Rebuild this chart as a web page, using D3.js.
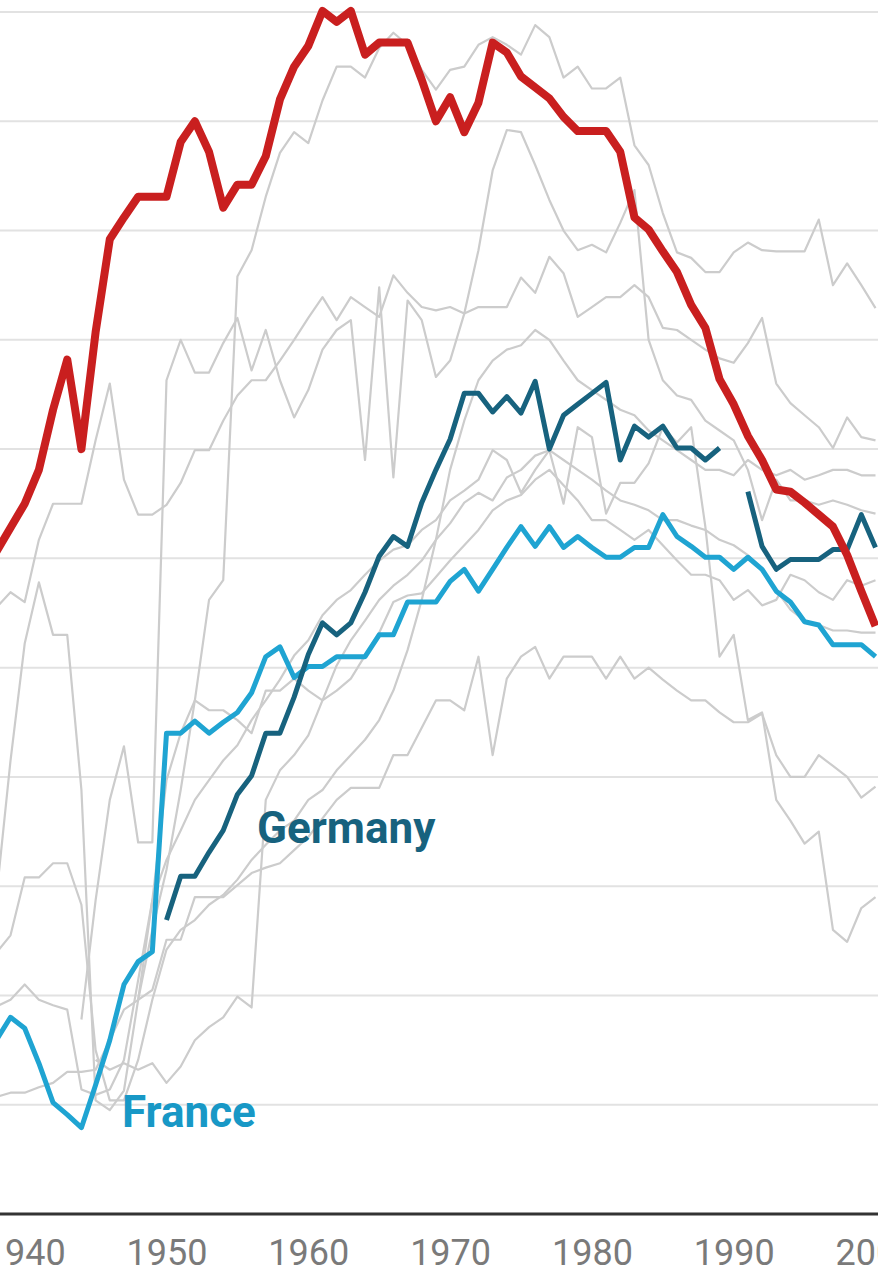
<!DOCTYPE html>
<meta charset="utf-8">
<script src="https://d3js.org/d3.v7.min.js"></script>
<style>
  body { margin: 0; background: #fff; }
  svg { display: block; }
</style>
<div id="chart"></div>
<script>

// every series is a run of yearly values starting at its own first year (null = gap)
var redFrom = 1938;
var redLine = [60.6, 62.8, 65.0, 68.1, 73.6, 78.2, 70.0, 80.7, 89.2, 91.2,
  93.1, 93.1, 93.1, 98.1, 100.0, 97.2, 92.1, 94.2, 94.2, 96.8,
  102.0, 105.0, 106.9, 110.1, 109.1, 110.1, 106.1, 107.2, 107.2, 107.2,
  103.8, 100.0, 102.2, 99.0, 101.7, 107.2, 106.3, 104.1, 103.1, 102.1,
  100.4, 99.1, 99.1, 99.1, 97.2, 91.2, 90.1, 88.1, 86.2, 83.2,
  81.1, 76.4, 74.1, 71.2, 69.0, 66.3, 66.1, 65.1, 64.0, 62.9,
  60.3, 57.0, 53.8];

var germanyFrom = 1950;
var germany = [26.9, 30.9, 30.9, 33.1, 35.1, 38.4, 40.1, 44.0, 44.0, 47.3,
  51.2, 54.1, 53.0, 54.1, 56.9, 60.2, 62.0, 61.1, 65.1, 68.1,
  70.9, 75.1, 75.1, 73.4, 74.8, 73.3, 76.2, 70.0, 73.1, 74.1,
  75.1, 76.1, 69.0, 72.1, 71.1, 72.1, 70.1, 70.1, 69.0, 70.1,
  null, 66.1, 61.1, 59.0, 59.9, 59.9, 59.9, 60.8, 60.8, 64.0,
  61.0];

var franceFrom = 1938;
var france = [15.9, 18.0, 17.0, 13.8, 10.2, 9.1, 7.9, 11.8, 15.9, 21.0,
  23.1, 24.0, 44.0, 44.0, 45.1, 44.0, 45.0, 45.9, 47.7, 51.0,
  51.9, 49.1, 50.1, 50.1, 51.0, 51.0, 51.0, 53.0, 53.0, 56.0,
  56.0, 56.0, 57.9, 59.0, 57.0, 59.0, 61.0, 62.9, 61.1, 62.9,
  61.0, 62.0, 61.0, 60.1, 60.1, 61.0, 61.0, 64.0, 62.0, 61.1,
  60.1, 60.1, 59.0, 60.1, 59.0, 57.0, 56.0, 54.2, 53.9, 52.1,
  52.1, 52.1, 51.0];

// other countries, all drawn in grey
var greyAFrom = 1948;
var greyA = [19.6, 26.0, 31.5, 38.8, 47.0, 56.2, 58.0, 85.8, 88.2, 93.1,
  97.1, 99.0, 98.0, 101.9, 105.0, 105.0, 104.0, 106.7, 108.1, 107.0,
  104.7, 102.9, 104.7, 105.0, 107.0, 107.7, 107.0, 106.1, 108.8, 107.7,
  104.0, 105.0, 103.0, 103.0, 104.0, 97.8, 96.0, 91.6, 88.0, 87.5,
  86.2, 86.2, 88.0, 88.9, 88.2, 88.1, 88.1, 88.1, 91.0, 85.0,
  87.0, 85.0, 82.9];

var greyBFrom = 1938;
var greyB = [10.7, 11.1, 11.1, 11.6, 12.0, 13.0, 13.0, 13.2, 15.9, 18.7,
  19.6, 20.5, 25.1, 25.1, 29.0, 29.0, 29.0, 30.1, 31.2, 31.7,
  32.1, 33.3, 34.5, 36.2, 37.9, 39.0, 39.0, 39.0, 42.0, 42.0,
  44.5, 47.0, 47.0, 46.1, 51.0, 42.0, 49.0, 51.0, 51.9, 49.0,
  51.0, 51.0, 51.0, 49.0, 51.0, 49.0, 50.0, 48.9, 47.9, 47.0,
  47.0, 45.9, 45.0, 45.0, 45.8, 42.0, 40.0, 40.0, 42.0, 41.0,
  40.0, 38.1, 39.1];

var greyCFrom = 1938;
var greyC = [29.0, 41.5, 52.2, 57.8, 53.0, 53.0, 38.8, 10.4, 9.5, 11.3,
  19.6, 28.7, 32.4, 35.1, 37.9, 39.7, 41.5, 42.9, 45.2, 47.0,
  48.9, 51.1, 52.5, 54.8, 56.2, 57.1, 58.5, 59.8, 60.8, 61.2,
  62.6, 63.5, 65.3, 66.2, 67.2, 69.9, 69.0, 66.0, 68.1, 69.9,
  65.0, 72.0, 71.1, 64.1, 66.9, 66.9, 68.7, 72.0, 70.6, 72.0,
  62.9, 51.0, 53.0, 45.2, 45.9, 37.9, 36.0, 33.9, 35.0, 26.0,
  24.9, 28.0, 29.0];

var greyEFrom = 1938;
var greyE = [55.5, 56.9, 56.0, 61.7, 65.0, 65.0, 65.0, 70.8, 76.0, 67.2,
  64.0, 64.0, 64.9, 66.9, 69.9, 69.9, 72.6, 74.9, 76.3, 76.3,
  78.1, 80.0, 82.0, 83.9, 81.8, 83.9, 83.0, 82.1, 85.9, 84.3,
  83.0, 82.7, 83.0, 82.4, 83.0, 83.0, 83.0, 85.7, 84.3, 87.6,
  86.1, 82.1, 83.0, 83.9, 83.9, 85.0, 83.9, 81.1, 80.9, 80.0,
  79.1, 78.3, 77.9, 79.7, 82.0, 76.0, 74.2, 73.1, 72.0, 70.1,
  72.9, 71.1, 70.8];

var greyFFrom = 1944;
var greyF = [17.8, 28.7, 37.9, 42.8, 34.0, 34.0, 76.3, 80.0, 77.0, 77.0,
  79.7, 82.0, 77.2, 80.9, 76.3, 72.9, 75.4, 79.1, 80.9, 81.8,
  69.0, 84.8, 67.4, 83.6, 81.8, 76.6, 78.1, 82.4, 88.2, 95.5,
  99.2, 99.0, 96.0, 92.8, 90.0, 88.2, 88.7, 88.0, 90.7, 93.7,
  80.0, 76.3, 74.9, 74.5, 72.6, 71.7, 70.8, 68.1, 63.5, 67.2,
  65.3, 65.3, 64.9, 65.3, 64.9, 64.4, 64.1];

var greyHFrom = 1938;
var greyH = [19.0, 19.6, 21.0, 19.6, 19.1, 18.7, 11.4, 10.9, 11.4, 14.1,
  21.4, 28.7, 39.7, 44.0, 47.0, 46.1, 46.1, 45.2, 44.0, 47.9,
  47.9, 49.0, 47.9, 47.0, 47.9, 49.0, 51.1, 53.2, 56.0, 56.6,
  56.8, 58.3, 59.8, 61.2, 62.6, 64.4, 65.3, 65.8, 67.2, 68.1,
  66.7, 65.3, 63.5, 63.5, 62.6, 61.7, 62.6, 61.2, 59.8, 58.5,
  58.5, 58.0, 56.2, 57.1, 55.7, 56.2, 58.5, 58.0, 56.9, 56.2,
  58.0, 57.5, 58.0];

var greyJFrom = 1945;
var greyJ = [14.1, 13.2, 13.8, 13.2, 13.8, 12.0, 13.5, 15.9, 17.1, 18.0,
  19.9, 18.9, 37.9, 40.6, 42.0, 43.8, 47.0, 50.2, 52.5, 54.3,
  56.2, 57.5, 58.5, 59.8, 61.7, 63.2, 65.1, 66.0, 65.3, 67.4,
  68.1, 69.4, 69.9, 69.0, 68.1, 67.2, 66.2, 65.3, 64.9, 64.4,
  63.5, 63.5, 63.0, 62.6, 61.7, 61.2, 60.3, 58.9, 57.1, 55.3,
  54.3, 53.9, 53.4, 53.4, 53.2, 53.2];

var greyKFrom = 1938;
var greyK = [23.9, 25.5, 30.8, 30.8, 32.1, 32.1, 28.3, 15.0, 10.4, 10.4,
  14.1, 19.6, 24.2, 26.0, 26.9, 28.3, 29.2, 30.6, 32.4, 33.8,
  35.1, 36.0, 37.9, 38.8, 40.6, 42.0, 43.4, 45.2, 47.9, 51.6,
  56.2, 61.7, 68.1, 72.6, 76.3, 78.1, 79.1, 79.5, 80.9, 80.0,
  78.1, 76.3, 75.4, 74.5, 73.6, 73.1, 71.7, 70.8, 69.9, 69.0,
  68.1, 68.1, 67.6, 69.0, 68.1, 67.6, 68.1, 67.2, 67.6, 68.1,
  68.1, 67.6, 67.6];

var xTicks = [1940, 1950, 1960, 1970, 1980, 1990, 2000];
var gridValues = [10, 20, 30, 40, 50, 60, 70, 80, 90, 100, 110];

var width = 878, height = 1271;

var svg = d3.select("#chart")
  .append("svg")
    .attr("width", width)
    .attr("height", height);

var x = d3.scaleLinear()
  .domain([1940, 1990])
  .range([24.7, 733.7]);

var y = d3.scaleLinear()
  .domain([0, 110])
  .range([1214, 12]);

function toPoints(values, from) {
  return values.map(function(v, i) { return { year: from + i, value: v }; });
}

var line = d3.line()
  .defined(function(d) { return d.value != null; })
  .x(function(d) { return x(d.year); })
  .y(function(d) { return y(d.value); });

// horizontal grid
svg.append("g")
  .selectAll("line")
  .data(gridValues)
  .enter()
  .append("line")
    .attr("x1", 0)
    .attr("x2", width)
    .attr("y1", function(d) { return y(d); })
    .attr("y2", function(d) { return y(d); })
    .attr("stroke", "#e2e2e2")
    .attr("stroke-width", 2);

// grey context lines
var greys = [
  toPoints(greyA, greyAFrom),
  toPoints(greyB, greyBFrom),
  toPoints(greyC, greyCFrom),
  toPoints(greyE, greyEFrom),
  toPoints(greyF, greyFFrom),
  toPoints(greyH, greyHFrom),
  toPoints(greyJ, greyJFrom),
  toPoints(greyK, greyKFrom)
];

svg.append("g")
  .selectAll("path")
  .data(greys)
  .enter()
  .append("path")
    .attr("d", line)
    .attr("fill", "none")
    .attr("stroke", "#cccccc")
    .attr("stroke-width", 2.2)
    .attr("stroke-linejoin", "round");

// highlighted countries
var highlights = [
  { points: toPoints(france, franceFrom), color: "#1fa4d2", w: 5 },
  { points: toPoints(germany, germanyFrom), color: "#17627e", w: 5 },
  { points: toPoints(redLine, redFrom), color: "#c91f1f", w: 8 }
];

svg.append("g")
  .selectAll("path")
  .data(highlights)
  .enter()
  .append("path")
    .attr("d", function(d) { return line(d.points); })
    .attr("fill", "none")
    .attr("stroke", function(d) { return d.color; })
    .attr("stroke-width", function(d) { return d.w; })
    .attr("stroke-linejoin", "round");

// x axis
var xAxis = svg.append("g")
  .attr("transform", "translate(0,1214)")
  .call(d3.axisBottom(x)
    .tickValues(xTicks)
    .tickFormat(d3.format("d"))
    .tickSize(0)
    .tickPadding(25));

xAxis.select(".domain").remove();
xAxis.selectAll("text")
  .attr("font-family", "Roboto, sans-serif")
  .attr("font-size", 36)
  .attr("fill", "#7a7a7a");

svg.append("line")
  .attr("x1", 0)
  .attr("x2", width)
  .attr("y1", 1214)
  .attr("y2", 1214)
  .attr("stroke", "#333")
  .attr("stroke-width", 3);

// direct labels
svg.append("text")
  .attr("x", 257)
  .attr("y", 843)
  .attr("font-family", "Roboto, sans-serif")
  .attr("font-weight", "bold")
  .attr("font-size", 44)
  .attr("fill", "#17627e")
  .text("Germany");

svg.append("text")
  .attr("x", 122)
  .attr("y", 1127)
  .attr("font-family", "Roboto, sans-serif")
  .attr("font-weight", "bold")
  .attr("font-size", 44)
  .attr("fill", "#1898c6")
  .text("France");

</script>
